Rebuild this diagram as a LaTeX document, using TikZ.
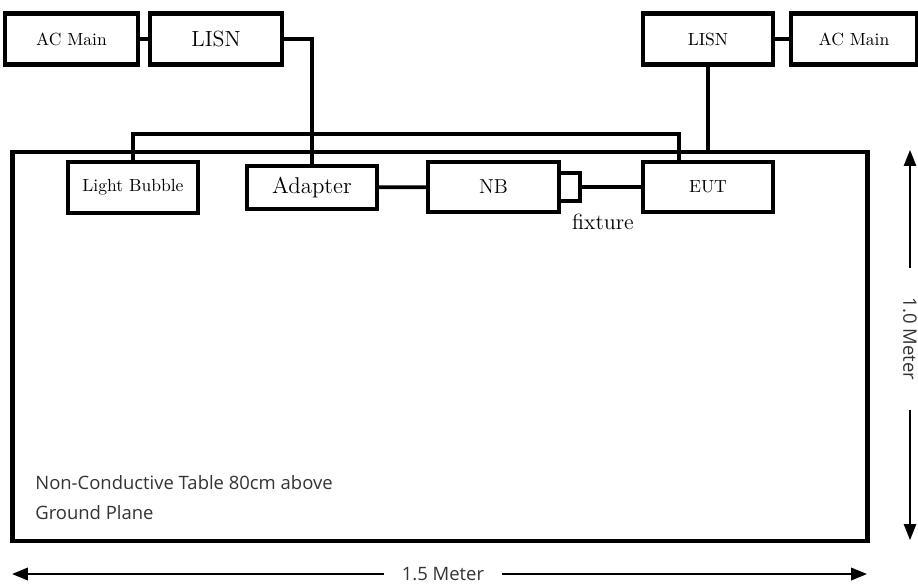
\documentclass[tikz,border=0pt]{standalone}
\usepackage{fontspec}
\newfontfamily\tablefont{Open Sans}
\usetikzlibrary{arrows.meta}

\begin{document}
\begin{tikzpicture}[x=0.02cm,y=-0.02cm,>={Triangle[length=9pt,width=7pt]},
  box/.style={draw,line width=2.3pt,inner sep=0pt,minimum width=2.6cm,minimum height=1.02cm},
  wire/.style={line width=2.1pt},
  dim/.style={line width=0.8pt,->},
  note/.style={font=\tablefont\fontsize{10.5}{12}\selectfont,text=black!80,inner sep=0pt}]
  \useasboundingbox (0,0) rectangle (918,585);
  % the table
  \node[box,line width=2.6pt,minimum width=17.1cm,minimum height=7.78cm] (table) at (440,346.5) {};
  \node[note,anchor=west] (tabtext) at (35,483) {Non-Conductive Table 80cm above};
  \node[note,anchor=west] (ground) at (35,513) {Ground Plane};
  % mains and LISNs
  \node[box,minimum width=2.66cm,font=\fontsize{10}{12}\selectfont] (acL) at (71.5,39) {AC Main};
  \node[box,minimum width=2.64cm,font=\fontsize{12.5}{14}\selectfont] (lisnL) at (216,39) {LISN};
  \node[box,font=\fontsize{10}{12}\selectfont] (lisnR) at (708,39) {LISN};
  \node[box,minimum width=2.52cm,font=\fontsize{10}{12}\selectfont] (acR) at (854,39) {AC Main};
  % devices on the table
  \node[box,font=\fontsize{10}{12}\selectfont] (bulb) at (133,187.5) {Light Bubble};
  \node[box,minimum height=0.86cm,font=\fontsize{13}{15}\selectfont] (adapter) at (312,187.5) {Adapter};
  \node[box,minimum width=2.62cm,minimum height=1.0cm,font=\fontsize{11.5}{13}\selectfont] (nb) at (493.5,187) {NB};
  \node[box,minimum width=0.42cm,minimum height=0.56cm] (fix) at (569.5,187) {};
  \node[font=\fontsize{12.5}{14}\selectfont,inner sep=0pt] (fixlabel) at (603,222) {fixture};
  \node[box,minimum height=1.0cm,font=\fontsize{10}{12}\selectfont] (eut) at (708,187) {EUT};
  % cables
  \draw[wire] (acL) -- (lisnL);
  \draw[wire,line width=2.8pt] (lisnR) -- (acR);
  \draw[wire] (lisnL.east) -| (adapter.north);
  \draw[wire] (lisnR.south) -- (lisnR.south |- table.north);
  \coordinate (busR) at (679,134);
  \draw[wire,line width=2.6pt] (bulb.north) |- (busR) -- (busR |- eut.north);
  \draw[wire] (adapter) -- (nb);
  \draw[wire] (fix) -- (eut);
  % dimensions
  \node[note,rotate=-90,inner xsep=17pt] (height) at (910,339) {1.0 Meter};
  \draw[dim] (height.west) -- (910,150);
  \draw[dim] (height.east) -- (910,540);
  \node[note,inner xsep=10pt] (width) at (443,574) {1.5 Meter};
  \draw[dim,line width=1.4pt] (width.west) -- (12,574);
  \draw[dim,line width=1.4pt] (width.east) -- (867,574);
\end{tikzpicture}
\end{document}
